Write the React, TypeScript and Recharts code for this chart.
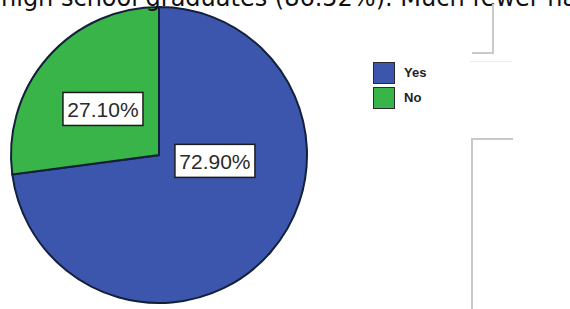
import { PieChart, Pie, Cell, Legend } from "recharts";

const categories = ["Yes", "No"];
const percents = [72.9, 27.1];
const colors = ["#3d56ad", "#38b449"];

const data = categories.map((name, i) => ({ name, value: percents[i] }));

// where the boxed labels sit: angle in degrees, distance as part of the radius
const labelSpots = [
  { angle: -6, dist: 0.38 },
  { angle: 140.6, dist: 0.49 },
];

const RADIAN = Math.PI / 180;

const renderLabel = (props: any) => {
  const { cx, cy, outerRadius, index, value } = props;
  const spot = labelSpots[index];
  const r = outerRadius * spot.dist;
  const x = cx + r * Math.cos(spot.angle * RADIAN);
  const y = cy - r * Math.sin(spot.angle * RADIAN);
  return (
    <g>
      <rect
        x={x - 40}
        y={y - 16.5}
        width={80}
        height={33}
        fill="#fff"
        stroke="#1c1c1c"
        strokeWidth={1.5}
      />
      <text
        x={x}
        y={y + 1}
        textAnchor="middle"
        dominantBaseline="central"
        fontFamily="'Liberation Sans', Arial, sans-serif"
        fontSize={21}
        fill="#2b2b2b">
        {value.toFixed(2)}%
      </text>
    </g>
  );
};

const LegendBox = () => (
  <ul style={{ listStyle: "none", margin: 0, padding: 0 }}>
    {categories.map((c, i) => (
      <li
        key={c}
        style={{
          display: "flex",
          alignItems: "center",
          height: 21,
          marginBottom: 4,
          fontFamily: "'Liberation Sans', Arial, sans-serif",
          fontWeight: "bold",
          fontSize: 13,
          color: "#222",
        }}>
        <span
          style={{
            width: 20,
            height: 20,
            background: colors[i],
            border: "1px solid #2a2a2a",
            marginRight: 9,
            display: "inline-block",
          }}
        />
        {c}
      </li>
    ))}
  </ul>
);

const line = (left: number, top: number, w: number, h: number, c = "#c9c9c9") => (
  <div style={{ position: "absolute", left, top, width: w, height: h, background: c }} />
);

export default function App() {
  return (
    <div
      style={{
        position: "fixed",
        left: 0,
        top: 0,
        width: 570,
        height: 309,
        overflow: "hidden",
        background: "#fff",
      }}>
      <PieChart width={570} height={309} margin={{ top: 0, right: 0, bottom: 0, left: 0 }}>
        <Pie
          data={data}
          dataKey="value"
          nameKey="name"
          cx={159}
          cy={155}
          outerRadius={148}
          startAngle={90}
          endAngle={-270}
          stroke="#13203a"
          strokeWidth={2}
          label={renderLabel}
          labelLine={false}
          isAnimationActive={false}>
          {data.map((d, i) => (
            <Cell key={d.name} fill={colors[i]} />
          ))}
        </Pie>
        <Legend
          content={<LegendBox />}
          wrapperStyle={{ position: "absolute", left: 373, top: 62, width: 80 }}
        />
      </PieChart>

      <div
        style={{
          position: "absolute",
          left: 1,
          top: -16,
          whiteSpace: "nowrap",
          fontFamily: "'DejaVu Sans', Verdana, sans-serif",
          fontSize: 24,
          lineHeight: "28px",
          color: "#111",
        }}>
        high school graduates (86.52%). Much fewer had
      </div>

      {line(492, 4, 2, 50)}
      {line(472, 52, 22, 2)}
      {line(470, 61, 42, 1, "#ececec")}
      {line(471, 138, 2, 171)}
      {line(471, 138, 42, 2)}
    </div>
  );
}
